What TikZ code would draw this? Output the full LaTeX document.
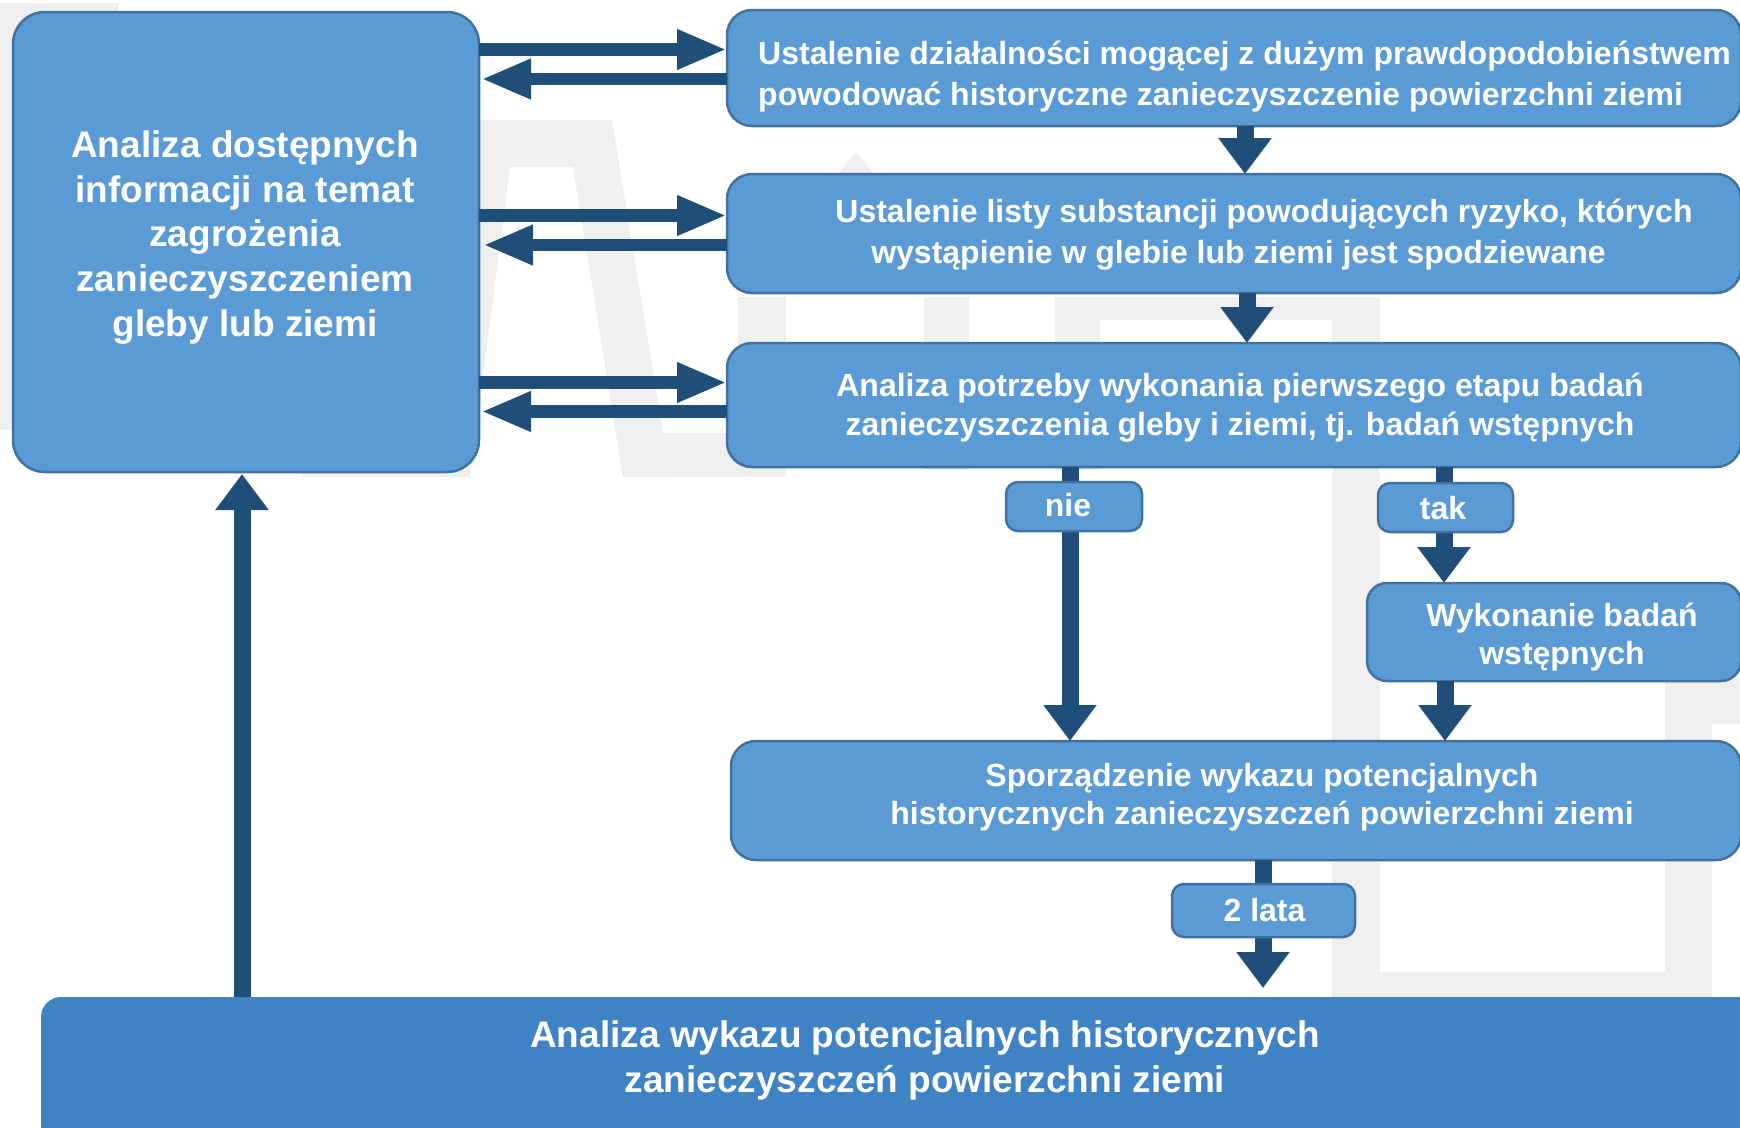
\documentclass[tikz,border=0pt]{standalone}
\usepackage{fontspec}
\setmainfont{Liberation Sans}
\usetikzlibrary{arrows.meta}
\definecolor{boxfill}{HTML}{5B9BD5}
\definecolor{boxline}{HTML}{41719C}
\definecolor{arrowcol}{HTML}{1F4E79}
\definecolor{botfill}{HTML}{3F83C4}
\definecolor{wmark}{HTML}{EFEFEF}
\begin{document}
\begin{tikzpicture}[x=1pt,y=-1pt,
  box/.style={draw=boxline, line width=2.5pt, fill=boxfill, rounded corners=#1, inner sep=0pt, outer sep=0pt},
  box/.default=25pt,
  botbox/.style={fill=botfill, rounded corners=20pt, inner sep=0pt, outer sep=0pt},
  harrow/.style={draw=arrowcol, line width=12.5pt, -{Triangle[length=50pt,width=37pt]}},
  varrow/.style={draw=arrowcol, line width=17pt, -{Triangle[length=36pt,width=51pt]}},
  tbig/.style={text=white, inner sep=0pt, align=center, font=\bfseries\fontsize{37}{44.7}\selectfont},
  tmid/.style={text=white, inner sep=0pt, align=center, font=\bfseries\fontsize{32}{#1}\selectfont},
  tmid/.default=40,
  wm/.style={fill=wmark, draw=none}]
\useasboundingbox (0,0) rectangle (1740,1127);
\fill[white] (0,0) rectangle (1740,1127);
% watermark
\fill[wm] (0,3) rectangle (119,430);
\fill[wm] (303,477) -- (349,120) -- (612,120) -- (670,477) -- (623,477) -- (573,167) -- (510,167) -- (470,477) -- cycle;
\fill[wm] (663,433) rectangle (786,477);
\fill[wm] (738,297) rectangle (786,477);
\fill[wm] (825,190) -- (856,152) -- (887,190) -- cycle;
\fill[wm] (924,297) rectangle (969,470);
\fill[wm] (1055,297) rectangle (1100,470);
\fill[wm] (1055,297) rectangle (1380,320);
\fill[wm] (1332,297) rectangle (1380,997);
\fill[wm] (1332,972) rectangle (1712,997);
\fill[wm] (1665,679) rectangle (1712,997);
\fill[wm] (1665,679) rectangle (1740,724);
% main boxes
\node[box=32pt, minimum width=466pt, minimum height=460pt] (L) at (246,242) {};
\node[box, minimum width=1014pt, minimum height=116pt] (B1) at (1234,68) {};
\node[box, minimum width=1014pt, minimum height=119pt] (B2) at (1234,233.5) {};
\node[box, minimum width=1014pt, minimum height=124pt] (B3) at (1234,405) {};
\node[box=20pt, minimum width=374pt, minimum height=98pt] (WYK) at (1554,632) {};
\node[box, minimum width=1010pt, minimum height=119pt] (SPO) at (1236,800.5) {};
\node[botbox, minimum width=1719pt, minimum height=153pt] (BOT) at (900.5,1073.5) {};
% horizontal arrows
\draw[harrow] (L.east |- 0,49.5) -- (B1.west |- 0,49.5);
\draw[harrow, shorten >=2pt] (B1.west |- 0,79) -- (L.east |- 0,79);
\draw[harrow] (L.east |- 0,215.5) -- (B2.west |- 0,215.5);
\draw[harrow, shorten >=4pt] (B2.west |- 0,245) -- (L.east |- 0,245);
\draw[harrow] (L.east |- 0,382.5) -- (B3.west |- 0,382.5);
\draw[harrow, shorten >=2pt] (B3.west |- 0,411.5) -- (L.east |- 0,411.5);
% vertical arrows
\draw[varrow] (B1.south -| 1245,0) -- (B2.north -| 1245,0);
\draw[varrow] (B2.south -| 1247,0) -- (B3.north -| 1247,0);
\draw[varrow] (B3.south -| 1070,0) -- (SPO.north -| 1070,0);
\draw[varrow] (B3.south -| 1444,0) -- (WYK.north -| 1444,0);
\draw[varrow] (WYK.south -| 1445,0) -- (SPO.north -| 1445,0);
\draw[varrow, shorten >=9pt] (SPO.south -| 1263,0) -- (BOT.north -| 1263,0);
\draw[varrow, shorten >=2pt] (BOT.north -| 242,0) -- (L.south -| 242,0);
% label boxes
\node[box=12pt, minimum width=136pt, minimum height=49pt] (NIE) at (1074,506.5) {};
\node[box=12pt, minimum width=135pt, minimum height=49pt] (TAK) at (1445.5,507.5) {};
\node[box=12pt, minimum width=183pt, minimum height=53pt] (LATA) at (1263.5,910.5) {};
% texts
\node[tbig] (tL) at (245,237.5) {Analiza dostępnych\\informacji na temat\\zagrożenia\\zanieczyszczeniem\\gleby lub ziemi};
\node[tmid=41, align=left, anchor=west] (t1) at (758,76.5) {Ustalenie działalności mogącej z dużym prawdopodobieństwem\\powodować historyczne zanieczyszczenie powierzchni ziemi};
\node[tmid=41] (t2) at (1264,234.5) {Ustalenie listy substancji powodujących ryzyko, których\\wystąpienie w glebie lub ziemi jest spodziewane\hspace*{51pt}};
\node[tmid=39] (t3) at (1240,407.5) {Analiza potrzeby wykonania pierwszego etapu badań\\zanieczyszczenia gleby i ziemi, tj. badań wstępnych};
\node[tmid=38.8] (tW) at (1562,637) {Wykonanie badań\\wstępnych};
\node[tmid=37.7] (tS) at (1262,797.5) {Sporządzenie wykazu potencjalnych\\historycznych zanieczyszczeń powierzchni ziemi};
\node[tmid, anchor=base] (tN) at (1068,516) {nie};
\node[tmid, anchor=base] (tT) at (1443,519) {tak};
\node[tmid, anchor=base] (tLa) at (1264.5,921) {2 lata};
\node[tbig] (tB) at (925,1060.5) {Analiza wykazu potencjalnych historycznych\\zanieczyszczeń powierzchni ziemi};
\end{tikzpicture}
\end{document}
